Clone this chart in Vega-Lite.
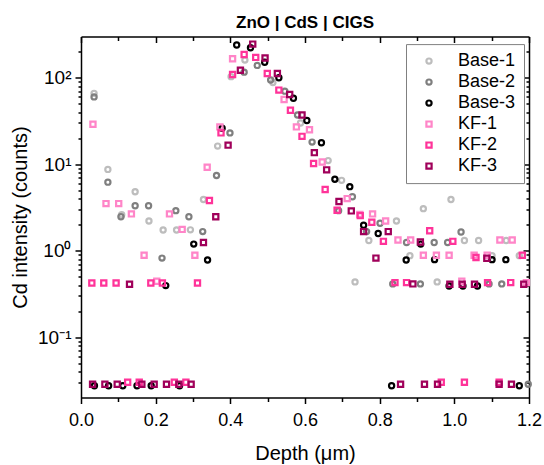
{
  "$schema": "https://vega.github.io/schema/vega-lite/v6.json",
  "width": 448,
  "height": 361,
  "autosize": "none",
  "padding": {"left": 81, "top": 36.5, "right": 15, "bottom": 67.5},
  "config": {
    "view": {"stroke": null},
    "font": "Liberation Sans",
    "axis": {"labelFont": "Liberation Sans", "titleFont": "Liberation Sans", "grid": false, "domainColor": "#000000", "tickColor": "#000000", "labelColor": "#000000", "titleColor": "#000000", "domainWidth": 1.5, "tickWidth": 1.5, "titleFontWeight": "normal"}
  },
  "title": {"text": "ZnO | CdS | CIGS", "fontSize": 17, "fontWeight": "bold", "font": "Liberation Sans", "anchor": "middle", "offset": 4, "color": "#000000"},
  "data": {"values": [
    {"s":"Base-1","d":0.035,"v":66},{"s":"Base-1","d":0.072,"v":8.7},{"s":"Base-1","d":0.109,"v":2.6},{"s":"Base-1","d":0.145,"v":4.8},{"s":"Base-1","d":0.182,"v":2.2},{"s":"Base-1","d":0.220,"v":1.73},{"s":"Base-1","d":0.256,"v":1.73},{"s":"Base-1","d":0.293,"v":1.74},{"s":"Base-1","d":0.328,"v":3.9},{"s":"Base-1","d":0.366,"v":16.2},{"s":"Base-1","d":0.402,"v":103},{"s":"Base-1","d":0.439,"v":160},{"s":"Base-1","d":0.514,"v":88},{"s":"Base-1","d":0.588,"v":30},{"s":"Base-1","d":0.662,"v":11},{"s":"Base-1","d":0.698,"v":6.5},{"s":"Base-1","d":0.734,"v":0.435},{"s":"Base-1","d":0.771,"v":1.31},{"s":"Base-1","d":0.845,"v":2.2},{"s":"Base-1","d":0.881,"v":0.875},{"s":"Base-1","d":0.917,"v":3.06},{"s":"Base-1","d":0.954,"v":0.435},{"s":"Base-1","d":0.991,"v":3.9},{"s":"Base-1","d":1.027,"v":1.31},{"s":"Base-1","d":1.065,"v":1.31},{"s":"Base-1","d":1.101,"v":0.875},{"s":"Base-1","d":1.139,"v":1.31},{"s":"Base-1","d":1.174,"v":0.875},
    {"s":"Base-2","d":0.035,"v":60},{"s":"Base-2","d":0.072,"v":6.2},{"s":"Base-2","d":0.107,"v":2.47},{"s":"Base-2","d":0.145,"v":3.3},{"s":"Base-2","d":0.181,"v":3.3},{"s":"Base-2","d":0.217,"v":0.82},{"s":"Base-2","d":0.254,"v":2.9},{"s":"Base-2","d":0.289,"v":2.47},{"s":"Base-2","d":0.326,"v":1.66},{"s":"Base-2","d":0.363,"v":7.4},{"s":"Base-2","d":0.399,"v":23},{"s":"Base-2","d":0.437,"v":116},{"s":"Base-2","d":0.472,"v":139},{"s":"Base-2","d":0.508,"v":94},{"s":"Base-2","d":0.546,"v":70},{"s":"Base-2","d":0.580,"v":37},{"s":"Base-2","d":0.619,"v":18},{"s":"Base-2","d":0.690,"v":2.9},{"s":"Base-2","d":0.727,"v":4.2},{"s":"Base-2","d":0.765,"v":1.66},{"s":"Base-2","d":0.801,"v":2.07},{"s":"Base-2","d":0.835,"v":0.412},{"s":"Base-2","d":0.872,"v":1.24},{"s":"Base-2","d":0.909,"v":0.412},{"s":"Base-2","d":0.946,"v":1.24},{"s":"Base-2","d":0.982,"v":1.24},{"s":"Base-2","d":1.018,"v":1.64},{"s":"Base-2","d":1.093,"v":0.412},{"s":"Base-2","d":1.127,"v":0.412},{"s":"Base-2","d":1.198,"v":0.0285},
    {"s":"Base-3","d":0.036,"v":0.0273},{"s":"Base-3","d":0.074,"v":0.0273},{"s":"Base-3","d":0.112,"v":0.0273},{"s":"Base-3","d":0.150,"v":0.0273},{"s":"Base-3","d":0.188,"v":0.0273},{"s":"Base-3","d":0.227,"v":0.394},{"s":"Base-3","d":0.264,"v":0.0273},{"s":"Base-3","d":0.302,"v":1.19},{"s":"Base-3","d":0.339,"v":0.78},{"s":"Base-3","d":0.378,"v":26},{"s":"Base-3","d":0.417,"v":239},{"s":"Base-3","d":0.454,"v":222},{"s":"Base-3","d":0.492,"v":151},{"s":"Base-3","d":0.530,"v":100},{"s":"Base-3","d":0.569,"v":58},{"s":"Base-3","d":0.605,"v":32},{"s":"Base-3","d":0.644,"v":17.7},{"s":"Base-3","d":0.680,"v":6.7},{"s":"Base-3","d":0.720,"v":5.5},{"s":"Base-3","d":0.757,"v":1.97},{"s":"Base-3","d":0.796,"v":1.58},{"s":"Base-3","d":0.832,"v":0.0273},{"s":"Base-3","d":0.871,"v":0.78},{"s":"Base-3","d":0.910,"v":1.19},{"s":"Base-3","d":0.947,"v":0.787},{"s":"Base-3","d":0.986,"v":0.39},{"s":"Base-3","d":1.023,"v":0.39},{"s":"Base-3","d":1.062,"v":0.39},{"s":"Base-3","d":1.101,"v":0.787},{"s":"Base-3","d":1.138,"v":0.787},{"s":"Base-3","d":1.174,"v":0.0273},
    {"s":"KF-1","d":0.032,"v":29},{"s":"KF-1","d":0.067,"v":3.5},{"s":"KF-1","d":0.101,"v":3.5},{"s":"KF-1","d":0.135,"v":2.66},{"s":"KF-1","d":0.169,"v":0.885},{"s":"KF-1","d":0.203,"v":0.443},{"s":"KF-1","d":0.237,"v":2.66},{"s":"KF-1","d":0.271,"v":1.76},{"s":"KF-1","d":0.305,"v":0.885},{"s":"KF-1","d":0.338,"v":9.2},{"s":"KF-1","d":0.372,"v":27},{"s":"KF-1","d":0.406,"v":166},{"s":"KF-1","d":0.544,"v":56},{"s":"KF-1","d":0.577,"v":27},{"s":"KF-1","d":0.612,"v":25},{"s":"KF-1","d":0.646,"v":10.6},{"s":"KF-1","d":0.713,"v":4.0},{"s":"KF-1","d":0.747,"v":2.63},{"s":"KF-1","d":0.781,"v":2.66},{"s":"KF-1","d":0.816,"v":2.2},{"s":"KF-1","d":0.849,"v":1.33},{"s":"KF-1","d":0.883,"v":1.33},{"s":"KF-1","d":0.917,"v":0.885},{"s":"KF-1","d":0.952,"v":0.885},{"s":"KF-1","d":0.986,"v":0.885},{"s":"KF-1","d":1.020,"v":0.443},{"s":"KF-1","d":1.053,"v":0.885},{"s":"KF-1","d":1.088,"v":0.885},{"s":"KF-1","d":1.122,"v":1.33},{"s":"KF-1","d":1.155,"v":1.33},{"s":"KF-1","d":1.193,"v":0.427},
    {"s":"KF-2","d":0.029,"v":0.423},{"s":"KF-2","d":0.061,"v":0.423},{"s":"KF-2","d":0.094,"v":0.423},{"s":"KF-2","d":0.125,"v":0.030},{"s":"KF-2","d":0.156,"v":0.030},{"s":"KF-2","d":0.187,"v":0.423},{"s":"KF-2","d":0.218,"v":0.423},{"s":"KF-2","d":0.250,"v":0.030},{"s":"KF-2","d":0.281,"v":0.030},{"s":"KF-2","d":0.312,"v":0.423},{"s":"KF-2","d":0.344,"v":3.8},{"s":"KF-2","d":0.375,"v":23},{"s":"KF-2","d":0.406,"v":109},{"s":"KF-2","d":0.437,"v":186},{"s":"KF-2","d":0.468,"v":172},{"s":"KF-2","d":0.499,"v":112},{"s":"KF-2","d":0.530,"v":72},{"s":"KF-2","d":0.561,"v":42},{"s":"KF-2","d":0.592,"v":21},{"s":"KF-2","d":0.623,"v":10.2},{"s":"KF-2","d":0.654,"v":5.1},{"s":"KF-2","d":0.686,"v":2.93},{"s":"KF-2","d":0.748,"v":2.54},{"s":"KF-2","d":0.779,"v":2.13},{"s":"KF-2","d":0.810,"v":1.28},{"s":"KF-2","d":0.841,"v":0.427},{"s":"KF-2","d":0.872,"v":0.427},{"s":"KF-2","d":0.934,"v":1.70},{"s":"KF-2","d":0.965,"v":0.030},{"s":"KF-2","d":0.996,"v":1.28},{"s":"KF-2","d":1.027,"v":0.030},{"s":"KF-2","d":1.058,"v":0.834},{"s":"KF-2","d":1.089,"v":0.427},{"s":"KF-2","d":1.120,"v":0.030},{"s":"KF-2","d":1.151,"v":0.427},{"s":"KF-2","d":1.182,"v":0.885},
    {"s":"KF-3","d":0.031,"v":0.0285},{"s":"KF-3","d":0.064,"v":0.0285},{"s":"KF-3","d":0.097,"v":0.0285},{"s":"KF-3","d":0.130,"v":0.409},{"s":"KF-3","d":0.163,"v":0.0285},{"s":"KF-3","d":0.196,"v":0.0285},{"s":"KF-3","d":0.229,"v":0.0285},{"s":"KF-3","d":0.262,"v":0.0285},{"s":"KF-3","d":0.295,"v":0.0285},{"s":"KF-3","d":0.328,"v":1.24},{"s":"KF-3","d":0.361,"v":2.47},{"s":"KF-3","d":0.394,"v":16.6},{"s":"KF-3","d":0.427,"v":122},{"s":"KF-3","d":0.460,"v":245},{"s":"KF-3","d":0.493,"v":169},{"s":"KF-3","d":0.526,"v":112},{"s":"KF-3","d":0.559,"v":64},{"s":"KF-3","d":0.592,"v":37},{"s":"KF-3","d":0.625,"v":13.6},{"s":"KF-3","d":0.658,"v":8.6},{"s":"KF-3","d":0.691,"v":3.7},{"s":"KF-3","d":0.724,"v":2.88},{"s":"KF-3","d":0.757,"v":1.66},{"s":"KF-3","d":0.790,"v":0.82},{"s":"KF-3","d":0.823,"v":1.66},{"s":"KF-3","d":0.856,"v":0.0285},{"s":"KF-3","d":0.889,"v":0.412},{"s":"KF-3","d":0.909,"v":1.26},{"s":"KF-3","d":0.920,"v":0.0285},{"s":"KF-3","d":0.955,"v":0.0285},{"s":"KF-3","d":0.988,"v":0.409},{"s":"KF-3","d":1.021,"v":0.409},{"s":"KF-3","d":1.054,"v":0.409},{"s":"KF-3","d":1.087,"v":0.816},{"s":"KF-3","d":1.120,"v":0.0285},{"s":"KF-3","d":1.153,"v":0.0285},{"s":"KF-3","d":1.186,"v":0.409}
  ]},
  "resolve": {"axis": {"x": "independent", "y": "independent"}},
  "layer": [
    {
      "mark": {"type": "point", "filled": false, "strokeWidth": 2.2, "size": 27, "opacity": 1},
      "encoding": {
        "x": {"field": "d", "type": "quantitative", "scale": {"domain": [0, 1.2], "nice": false, "zero": false},
          "axis": {"orient": "bottom", "values": [0, 0.2, 0.4, 0.6, 0.8, 1.0, 1.2], "format": ".1f", "title": "Depth (μm)", "tickSize": 6, "labelFontSize": 18, "labelPadding": 8, "titleFontSize": 20, "titlePadding": 14, "labelFlush": false, "labelOverlap": false}},
        "y": {"field": "v", "type": "quantitative", "scale": {"type": "log", "domain": [0.02, 300], "nice": false},
          "axis": {"orient": "left", "values": [0.1, 1, 10, 100], "labelExpr": "datum.value >= 100 ? '10²' : datum.value >= 10 ? '10¹' : datum.value >= 1 ? '10⁰' : '10⁻¹'", "title": "Cd intensity (counts)", "tickSize": 6, "labelFontSize": 19, "labelPadding": 4, "titleFontSize": 20, "titlePadding": 7, "labelOverlap": false}},
        "color": {"field": "s", "type": "nominal",
          "scale": {"domain": ["Base-1", "Base-2", "Base-3", "KF-1", "KF-2", "KF-3"], "range": ["#BDBDBD", "#7F7F7F", "#000000", "#FF85C8", "#FF3399", "#A0005A"]},
          "legend": {"title": null, "orient": "none", "legendX": 325, "legendY": 7.6, "padding": 8, "strokeColor": "#808080", "fillColor": "white", "labelFontSize": 18, "labelFont": "Liberation Sans", "labelColor": "#000000", "labelOffset": 20, "symbolOffset": 6, "rowPadding": 3, "symbolStrokeWidth": 2.2, "symbolSize": 27}},
        "shape": {"field": "s", "type": "nominal",
          "scale": {"domain": ["Base-1", "Base-2", "Base-3", "KF-1", "KF-2", "KF-3"], "range": ["circle", "circle", "circle", "square", "square", "square"]},
          "legend": {"title": null, "orient": "none", "legendX": 325, "legendY": 7.6, "padding": 8, "strokeColor": "#808080", "fillColor": "white", "labelFontSize": 18, "labelFont": "Liberation Sans", "labelColor": "#000000", "labelOffset": 20, "symbolOffset": 6, "rowPadding": 3, "symbolStrokeWidth": 2.2, "symbolSize": 27}}
      }
    },
    {
      "mark": {"type": "point", "opacity": 0},
      "encoding": {
        "x": {"field": "d", "type": "quantitative", "scale": {"domain": [0, 1.2], "nice": false, "zero": false},
          "axis": {"orient": "bottom", "values": [0.1, 0.3, 0.5, 0.7, 0.9, 1.1], "labels": false, "domain": false, "title": null, "tickSize": 4}},
        "y": {"field": "v", "type": "quantitative", "scale": {"type": "log", "domain": [0.02, 300], "nice": false},
          "axis": {"orient": "left", "values": [0.03, 0.04, 0.05, 0.06, 0.07, 0.08, 0.09, 0.2, 0.3, 0.4, 0.5, 0.6, 0.7, 0.8, 0.9, 2, 3, 4, 5, 6, 7, 8, 9, 20, 30, 40, 50, 60, 70, 80, 90, 200], "labels": false, "domain": false, "title": null, "tickSize": 3}}
      }
    },
    {
      "mark": {"type": "point", "opacity": 0},
      "encoding": {
        "x": {"field": "d", "type": "quantitative", "scale": {"domain": [0, 1.2], "nice": false, "zero": false},
          "axis": {"orient": "top", "values": [0, 0.2, 0.4, 0.6, 0.8, 1.0, 1.2], "labels": false, "title": null, "tickSize": -6}},
        "y": {"field": "v", "type": "quantitative", "scale": {"type": "log", "domain": [0.02, 300], "nice": false},
          "axis": {"orient": "right", "values": [0.1, 1, 10, 100], "labels": false, "title": null, "tickSize": -6}}
      }
    },
    {
      "mark": {"type": "point", "opacity": 0},
      "encoding": {
        "x": {"field": "d", "type": "quantitative", "scale": {"domain": [0, 1.2], "nice": false, "zero": false},
          "axis": {"orient": "top", "values": [0.1, 0.3, 0.5, 0.7, 0.9, 1.1], "labels": false, "domain": false, "title": null, "tickSize": -4}},
        "y": {"field": "v", "type": "quantitative", "scale": {"type": "log", "domain": [0.02, 300], "nice": false},
          "axis": {"orient": "right", "values": [0.03, 0.04, 0.05, 0.06, 0.07, 0.08, 0.09, 0.2, 0.3, 0.4, 0.5, 0.6, 0.7, 0.8, 0.9, 2, 3, 4, 5, 6, 7, 8, 9, 20, 30, 40, 50, 60, 70, 80, 90, 200], "labels": false, "domain": false, "title": null, "tickSize": -3}}
      }
    }
  ]
}
